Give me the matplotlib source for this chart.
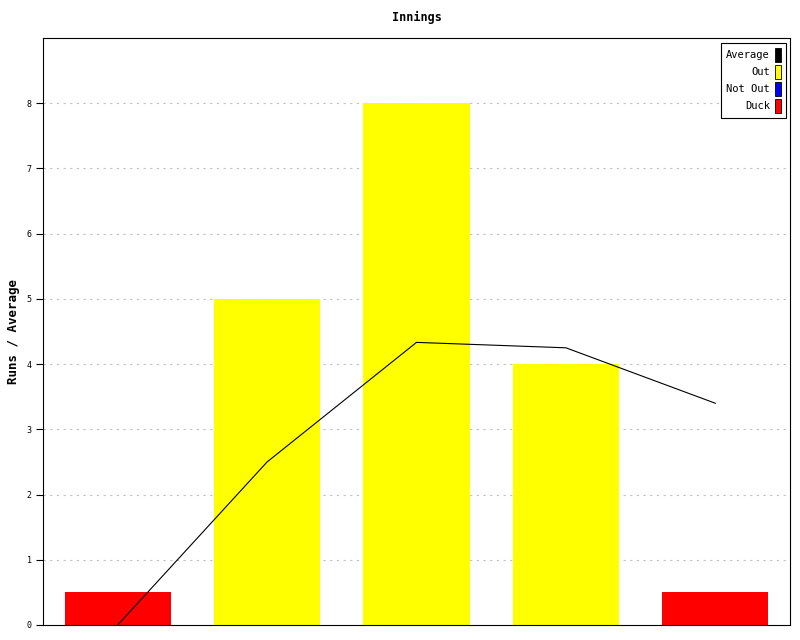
import matplotlib
matplotlib.use("Agg")
import matplotlib.pyplot as plt
from matplotlib.patches import Patch

# innings data
runs = [0.5, 5, 8, 4, 0.5]
bar_colors = ["#ff0000", "#ffff00", "#ffff00", "#ffff00", "#ff0000"]
average = [0, 2.5, 4.333, 4.25, 3.4]
yticks = [0, 1, 2, 3, 4, 5, 6, 7, 8]
legend_labels = ["Average", "Out", "Not Out", "Duck"]
legend_colors = ["#000000", "#ffff00", "#0000ff", "#ff0000"]

plt.rcParams['font.family'] = ['DejaVu Sans Mono']

fig = plt.figure(figsize=(8, 6.4), dpi=100)
ax = fig.add_axes([43/800, 15/640, 747/800, 587/640])

xs = list(range(len(runs)))
ax.bar(xs, runs, width=0.71, color=bar_colors, zorder=2)
ax.plot(xs, average, color="black", linewidth=0.8, zorder=3)

ax.set_xlim(-0.5, 4.5)
ax.set_ylim(0, 9)
ax.set_xticks([])
ax.set_yticks(yticks)
ax.set_yticklabels([str(t) for t in yticks], fontsize=6)
ax.tick_params(axis="y", direction="out", length=5, width=0.8, pad=3)
for y in yticks[1:]:
    ax.axhline(y, color="#c0c0c0", linestyle=(0, (2, 4)), linewidth=0.8, zorder=1)
for s in ax.spines.values():
    s.set_linewidth(0.8)

ax.set_title("Innings", fontsize=8.5, fontweight="bold", pad=12)
ax.set_ylabel("Runs / Average", fontsize=9, fontweight="bold")
ax.yaxis.set_label_coords(-0.031, 0.5)

handles = [Patch(facecolor=c, edgecolor="black", linewidth=0.6) for c in legend_colors]
leg = ax.legend(handles, legend_labels, loc="upper right", fontsize=7.5,
                markerfirst=False, handlelength=0.55, handleheight=1.6,
                handletextpad=0.5, labelspacing=0.35, borderpad=0.5,
                borderaxespad=0, fancybox=False, edgecolor="black",
                framealpha=1, bbox_to_anchor=(0.9946, 0.9915))
leg.get_frame().set_linewidth(0.8)
for t in leg.get_texts():
    t.set_ha("right")

fig.savefig("out.png", dpi=100)
